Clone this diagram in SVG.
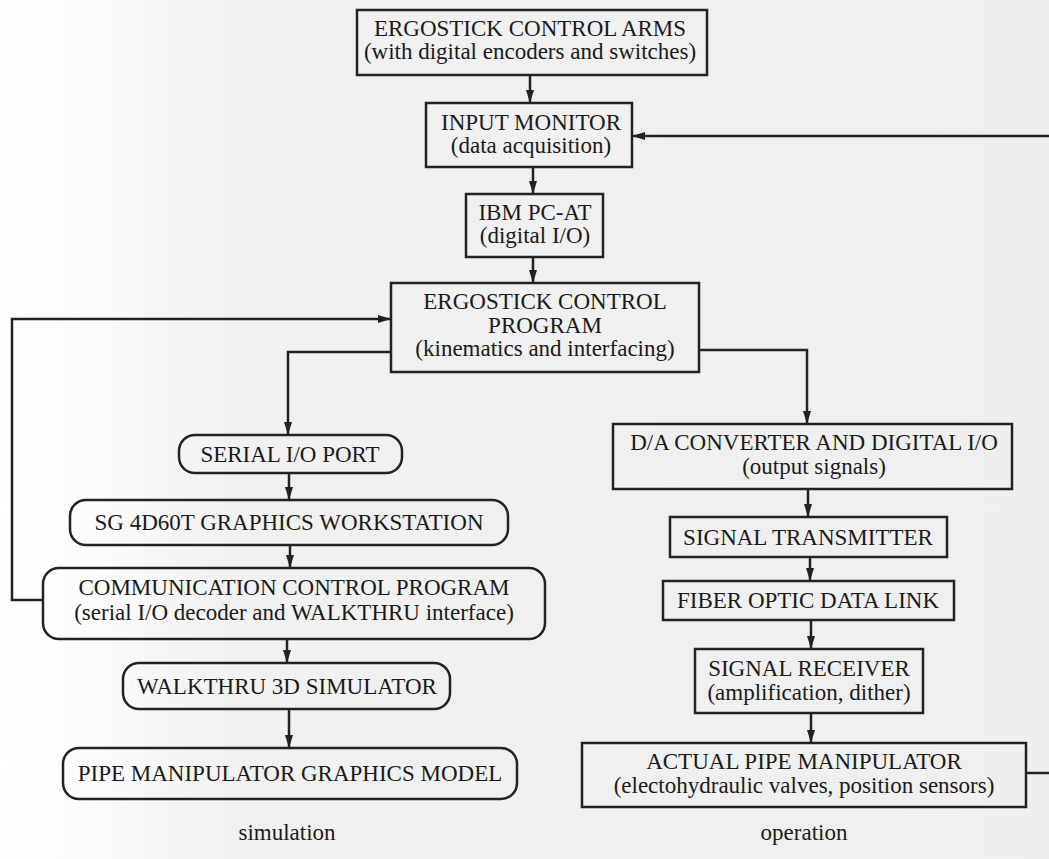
<svg xmlns="http://www.w3.org/2000/svg" width="1049" height="859" viewBox="0 0 1049 859">
<defs>
<linearGradient id="bg" x1="0" y1="0" x2="1" y2="0">
<stop offset="0" stop-color="#ffffff"/>
<stop offset="0.1" stop-color="#fbfbfb"/>
<stop offset="0.22" stop-color="#f1f1f1"/>
<stop offset="1" stop-color="#efefef"/>
</linearGradient>
<marker id="arr" viewBox="0 0 13 8" refX="13" refY="4" markerWidth="13" markerHeight="8" markerUnits="userSpaceOnUse" orient="auto">
<path d="M0,0 L13,4 L0,8 Z" fill="#222"/>
</marker>
<style>
.box{fill:none;stroke:#222;stroke-width:2.5}
.t{font-size:23px;fill:#1a1a1a;text-anchor:middle}
.c{fill:none;stroke:#222;stroke-width:2.5}
</style>
</defs>
<rect x="0" y="0" width="1049" height="859" fill="url(#bg)"/>

<g id="connectors">
<path class="c" d="M530,75 V103" marker-end="url(#arr)"/>
<path class="c" d="M533,167 V194" marker-end="url(#arr)"/>
<path class="c" d="M533,257 V283" marker-end="url(#arr)"/>
<path class="c" d="M1060,773 H1026 M1055,136 H632" marker-end="url(#arr)"/>
<path class="c" d="M43,600 H12 V319 H391" marker-end="url(#arr)"/>
<path class="c" d="M391,352 H288 V435" marker-end="url(#arr)"/>
<path class="c" d="M699,350 H807 V424" marker-end="url(#arr)"/>
<path class="c" d="M289,473 V500" marker-end="url(#arr)"/>
<path class="c" d="M290,545 V568" marker-end="url(#arr)"/>
<path class="c" d="M287,639 V663" marker-end="url(#arr)"/>
<path class="c" d="M289,709 V748" marker-end="url(#arr)"/>
<path class="c" d="M808,489 V517" marker-end="url(#arr)"/>
<path class="c" d="M810,557 V581" marker-end="url(#arr)"/>
<path class="c" d="M811,620 V649" marker-end="url(#arr)"/>
<path class="c" d="M811,713 V743" marker-end="url(#arr)"/>
</g>

<g font-family="Liberation Serif, DejaVu Serif, serif">
<g id="n-arms">
<rect class="box" x="357" y="10" width="350" height="65"/>
<text class="t" x="530" y="36">ERGOSTICK CONTROL ARMS</text>
<text class="t" x="530" y="59">(with digital encoders and switches)</text>
</g>
<g id="n-input">
<rect class="box" x="426" y="103" width="206" height="64"/>
<text class="t" x="531" y="130">INPUT MONITOR</text>
<text class="t" x="531" y="153">(data acquisition)</text>
</g>
<g id="n-ibm">
<rect class="box" x="466" y="194" width="137" height="63"/>
<text class="t" x="535" y="220">IBM PC-AT</text>
<text class="t" x="535" y="243">(digital I/O)</text>
</g>
<g id="n-program">
<rect class="box" x="391" y="283" width="308" height="89"/>
<text class="t" x="545" y="309">ERGOSTICK CONTROL</text>
<text class="t" x="545" y="333">PROGRAM</text>
<text class="t" x="545" y="356">(kinematics and interfacing)</text>
</g>
<g id="n-serial">
<rect class="box" x="179" y="435" width="223" height="38" rx="16"/>
<text class="t" x="290" y="462">SERIAL I/O PORT</text>
</g>
<g id="n-sg">
<rect class="box" x="70" y="500" width="438" height="45" rx="16"/>
<text class="t" x="289" y="530">SG 4D60T GRAPHICS WORKSTATION</text>
</g>
<g id="n-comm">
<rect class="box" x="43" y="568" width="502" height="71" rx="16"/>
<text class="t" x="294" y="595">COMMUNICATION CONTROL PROGRAM</text>
<text class="t" x="294" y="620">(serial I/O decoder and WALKTHRU interface)</text>
</g>
<g id="n-walk">
<rect class="box" x="123" y="663" width="327" height="46" rx="16"/>
<text class="t" x="287" y="694">WALKTHRU 3D SIMULATOR</text>
</g>
<g id="n-model">
<rect class="box" x="63" y="748" width="454" height="51" rx="16"/>
<text class="t" x="290" y="781">PIPE MANIPULATOR GRAPHICS MODEL</text>
</g>
<g id="n-da">
<rect class="box" x="613" y="424" width="399" height="65"/>
<text class="t" x="814" y="450">D/A CONVERTER AND DIGITAL I/O</text>
<text class="t" x="814" y="474">(output signals)</text>
</g>
<g id="n-tx">
<rect class="box" x="670" y="517" width="277" height="40"/>
<text class="t" x="808" y="545">SIGNAL TRANSMITTER</text>
</g>
<g id="n-fiber">
<rect class="box" x="663" y="581" width="291" height="39"/>
<text class="t" x="808" y="608">FIBER OPTIC DATA LINK</text>
</g>
<g id="n-rx">
<rect class="box" x="695" y="649" width="228" height="64"/>
<text class="t" x="809" y="676">SIGNAL RECEIVER</text>
<text class="t" x="809" y="700">(amplification, dither)</text>
</g>
<g id="n-actual">
<rect class="box" x="582" y="743" width="444" height="64"/>
<text class="t" x="804" y="769">ACTUAL PIPE MANIPULATOR</text>
<text class="t" x="804" y="793">(electohydraulic valves, position sensors)</text>
</g>
<g id="labels">
<text class="t" x="287" y="840">simulation</text>
<text class="t" x="804" y="840">operation</text>
</g>
</g>
</svg>
